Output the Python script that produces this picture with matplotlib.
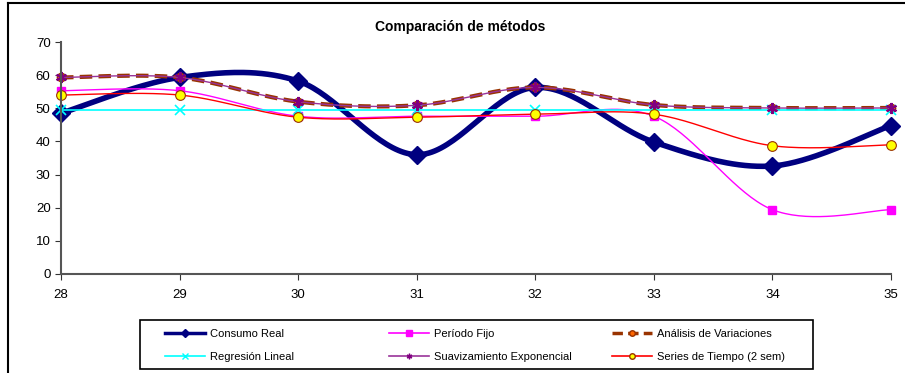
import numpy as np
import matplotlib.pyplot as plt
from matplotlib.lines import Line2D
from matplotlib.patches import Rectangle

plt.rcParams['font.family'] = ['Liberation Sans', 'DejaVu Sans']

semanas = [28, 29, 30, 31, 32, 33, 34, 35]
consumo_real = [48.5, 59.3, 58.2, 36.0, 56.3, 39.8, 32.6, 44.8]
periodo_fijo = [55.3, 55.3, 47.6, 47.6, 47.6, 47.6, 19.4, 19.4]
analisis_var = [59.3, 59.3, 52.0, 50.9, 56.3, 51.0, 50.1, 50.1]
regresion = [49.5, 49.5, 49.5, 49.5, 49.5, 49.5, 49.5, 49.5]
suavizamiento = [59.3, 59.3, 52.0, 50.9, 56.3, 51.0, 50.1, 50.1]
series_tiempo = [54.0, 54.0, 47.3, 47.3, 48.2, 48.2, 38.7, 39.0]


def suavizar(x, y, n=40):
    # bezier smoothing similar to excel's smoothed line
    x = np.asarray(x, float)
    y = np.asarray(y, float)
    px = np.concatenate([[x[0]], x, [x[-1]]])
    py = np.concatenate([[y[0]], y, [y[-1]]])
    t = np.linspace(0, 1, n)[:, None]
    xs, ys = [], []
    for i in range(1, len(px) - 2):
        p0 = np.array([px[i], py[i]])
        p3 = np.array([px[i + 1], py[i + 1]])
        p1 = p0 + (np.array([px[i + 1], py[i + 1]]) - np.array([px[i - 1], py[i - 1]])) / 6
        p2 = p3 - (np.array([px[i + 2], py[i + 2]]) - np.array([px[i], py[i]])) / 6
        b = ((1 - t) ** 3) * p0 + 3 * ((1 - t) ** 2) * t * p1 + 3 * (1 - t) * t ** 2 * p2 + t ** 3 * p3
        xs.append(b[:, 0])
        ys.append(b[:, 1])
    return np.concatenate(xs), np.concatenate(ys)


W, H = 905, 373
fig = plt.figure(figsize=(W / 100, H / 100), dpi=100)
ax = fig.add_axes([61 / W, 1 - 274 / H, 830 / W, 232 / H])

estilos = [
    ('Consumo Real', consumo_real, dict(color='#000080', lw=4), dict(marker='D', ms=9, mfc='#000080', mec='#000080')),
    ('Período Fijo', periodo_fijo, dict(color='#FF00FF', lw=1), dict(marker='s', ms=6, mfc='#FF00FF', mec='#FF00FF')),
    ('Análisis de Variaciones', analisis_var, dict(color='#993300', lw=3, ls=(0, (3, 1.5))), dict(marker='o', ms=6, mfc='#FF6600', mec='#993300')),
    ('Regresión Lineal', regresion, dict(color='#00FFFF', lw=1.2), dict(marker='x', ms=7, mew=1.2, mfc='#00FFFF', mec='#00FFFF')),
    ('Suavizamiento Exponencial', suavizamiento, dict(color='#993399', lw=1), dict(marker=(6, 2, 0), ms=8, mew=1.5, mec='#800080')),
    ('Series de Tiempo (2 sem)', series_tiempo, dict(color='#FF0000', lw=1), dict(marker='o', ms=7, mfc='#FFFF00', mec='#993300', mew=0.8)),
]

handles = {}
for nombre, valores, lstyle, mstyle in estilos:
    sx, sy = suavizar(semanas, valores)
    ax.plot(sx, sy, solid_capstyle='butt', clip_on=False, **lstyle)
    ax.plot(semanas, valores, ls='none', clip_on=False, **mstyle)
    hstyle = dict(lstyle)
    hstyle['lw'] = 2.5 if hstyle['lw'] > 2 else 1.2
    mst = dict(mstyle)
    mst['ms'] = 4
    mst['mew'] = 1
    h, = ax.plot([], [], label=nombre, **hstyle, **mst)
    handles[nombre] = h

ax.set_xlim(28, 35)
ax.set_ylim(0, 70)
ax.set_xticks(semanas)
ax.set_yticks(range(0, 71, 10))
ax.tick_params(labelsize=9.5, length=4, direction='out', color='#333333')
ax.tick_params(axis='x', pad=7)
for lado in ['top', 'right']:
    ax.spines[lado].set_visible(False)
for lado in ['left', 'bottom']:
    ax.spines[lado].set_color('#555555')
    ax.spines[lado].set_linewidth(1.5)

fig.text(0.508, 1 - 27 / H, 'Comparación de métodos', ha='center', va='center',
         fontsize=10, fontweight='bold')

# legend: three equal-width columns like excel
columnas = [['Consumo Real', 'Regresión Lineal'],
            ['Período Fijo', 'Suavizamiento Exponencial'],
            ['Análisis de Variaciones', 'Series de Tiempo (2 sem)']]
inicio_col = [165, 389, 612]
for x0, col in zip(inicio_col, columnas):
    fig.legend([handles[n] for n in col], col, loc='upper left',
               bbox_to_anchor=(x0 / W, 1 - 329 / H), fontsize=8, frameon=False,
               borderpad=0, borderaxespad=0, handlelength=3.6, handletextpad=0.45,
               labelspacing=1.2)
fig.add_artist(Rectangle((140 / W, 1 - 369 / H), 673 / W, 49 / H, transform=fig.transFigure,
                         fill=False, edgecolor='black', lw=1.2))

# chart area border (top and left only visible)
fig.add_artist(Line2D([8 / W, 1], [1 - 2.5 / H, 1 - 2.5 / H], transform=fig.transFigure,
                      color='black', lw=1.5))
fig.add_artist(Line2D([8 / W, 8 / W], [0, 1 - 2.5 / H], transform=fig.transFigure,
                      color='black', lw=1.5))

fig.savefig('out.png', dpi=100)
